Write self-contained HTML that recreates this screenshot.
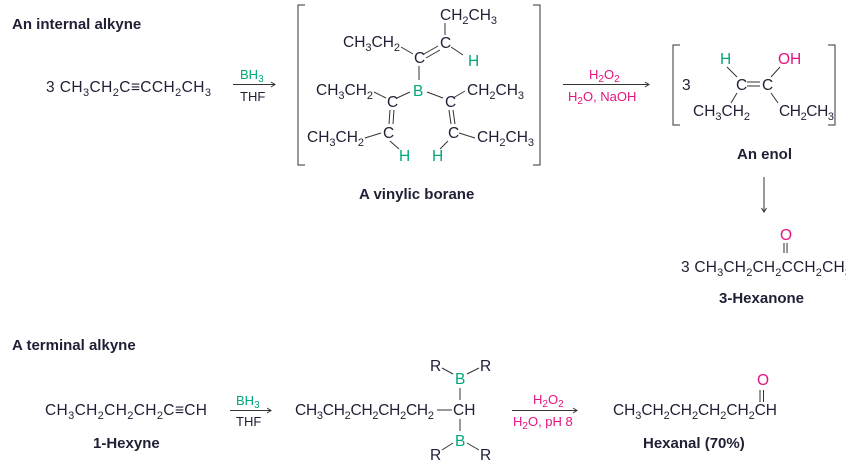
<!DOCTYPE html>
<html><head><meta charset="utf-8"><style>
html,body{margin:0;padding:0;background:#fff;}
svg{display:block;font-family:"Liberation Sans",sans-serif;}
.t{font-size:15.5px;fill:#1f1f35;}
.b{font-size:15px;font-weight:bold;fill:#1f1f35;}
.s{font-size:13px;fill:#1f1f35;}
.g{fill:#00a77a;}
.m{fill:#e5137f;}
line,polyline,path{stroke:#333;stroke-width:1;fill:none;}
</style></head><body>
<svg width="846" height="465" viewBox="0 0 846 465">
<text class="b" x="12" y="29">An internal alkyne</text>
<text class="t" x="46" y="92" textLength="165">3 CH<tspan dy="4" font-size="11">3</tspan><tspan dy="-4">CH</tspan><tspan dy="4" font-size="11">2</tspan><tspan dy="-4">C≡CCH</tspan><tspan dy="4" font-size="11">2</tspan><tspan dy="-4">CH</tspan><tspan dy="4" font-size="11">3</tspan></text>
<text class="s g" x="240" y="79">BH<tspan dy="3" font-size="10">3</tspan></text>
<line x1="233" y1="84.5" x2="275" y2="84.5" stroke="#777"/>
<polyline points="271,82 275,84.5 271,87" stroke="#777"/>
<text class="s" x="240" y="101">THF</text>

<polyline points="305,5 298,5 298,165 305,165"/>
<polyline points="533,5 540,5 540,165 533,165"/>
<text class="t" x="440" y="20">CH<tspan dy="4" font-size="11">2</tspan><tspan dy="-4">CH</tspan><tspan dy="4" font-size="11">3</tspan></text>
<text class="t" x="343" y="47">CH<tspan dy="4" font-size="11">3</tspan><tspan dy="-4">CH</tspan><tspan dy="4" font-size="11">2</tspan></text>
<text class="t" x="414" y="63">C</text>
<text class="t" x="440" y="48">C</text>
<text class="t g" x="468" y="66">H</text>
<line x1="445" y1="23" x2="445" y2="35"/>
<line x1="401" y1="47" x2="413" y2="54"/>
<line x1="424" y1="54" x2="438" y2="46"/>
<line x1="426" y1="58" x2="440" y2="50"/>
<line x1="451" y1="47" x2="463" y2="55"/>
<line x1="419" y1="66" x2="419" y2="80"/>
<text class="t g" x="413" y="96">B</text>
<text class="t" x="316" y="95">CH<tspan dy="4" font-size="11">3</tspan><tspan dy="-4">CH</tspan><tspan dy="4" font-size="11">2</tspan></text>
<text class="t" x="387" y="107">C</text>
<text class="t" x="445" y="107">C</text>
<text class="t" x="467" y="95">CH<tspan dy="4" font-size="11">2</tspan><tspan dy="-4">CH</tspan><tspan dy="4" font-size="11">3</tspan></text>
<line x1="374" y1="92" x2="386" y2="98"/>
<line x1="397" y1="98" x2="410" y2="92"/>
<line x1="427" y1="92" x2="443" y2="98"/>
<line x1="453" y1="98" x2="465" y2="91"/>
<line x1="390" y1="110" x2="389" y2="124"/>
<line x1="394" y1="110" x2="393" y2="124"/>
<line x1="449" y1="110" x2="451" y2="124"/>
<line x1="453" y1="110" x2="455" y2="124"/>
<text class="t" x="383" y="138">C</text>
<text class="t" x="448" y="138">C</text>
<text class="t" x="307" y="142">CH<tspan dy="4" font-size="11">3</tspan><tspan dy="-4">CH</tspan><tspan dy="4" font-size="11">2</tspan></text>
<line x1="365" y1="138" x2="381" y2="133"/>
<line x1="459" y1="133" x2="475" y2="138"/>
<text class="t" x="477" y="142">CH<tspan dy="4" font-size="11">2</tspan><tspan dy="-4">CH</tspan><tspan dy="4" font-size="11">3</tspan></text>
<line x1="390" y1="141" x2="399" y2="149"/>
<line x1="448" y1="141" x2="440" y2="149"/>
<text class="t g" x="399" y="161">H</text>
<text class="t g" x="432" y="161">H</text>
<text class="b" x="359" y="199">A vinylic borane</text>

<text class="s m" x="589" y="79">H<tspan dy="3" font-size="10">2</tspan><tspan dy="-3">O</tspan><tspan dy="3" font-size="10">2</tspan></text>
<line x1="563" y1="84.5" x2="649" y2="84.5" stroke="#777"/>
<polyline points="645,82 649,84.5 645,87" stroke="#777"/>
<text class="s m" x="568" y="101">H<tspan dy="3" font-size="10">2</tspan><tspan dy="-3">O, NaOH</tspan></text>

<polyline points="680,45 673,45 673,125 680,125"/>
<polyline points="828,45 835,45 835,125 828,125"/>
<text class="t" x="682" y="90">3</text>
<text class="t g" x="720" y="64">H</text>
<text class="t m" x="778" y="64">OH</text>
<text class="t" x="736" y="90">C</text>
<text class="t" x="762" y="90">C</text>
<line x1="747" y1="82" x2="760" y2="82"/>
<line x1="747" y1="86" x2="760" y2="86"/>
<line x1="727" y1="67" x2="737" y2="77"/>
<line x1="780" y1="67" x2="771" y2="77"/>
<line x1="737" y1="93" x2="731" y2="103"/>
<line x1="771" y1="93" x2="778" y2="103"/>
<text class="t" x="693" y="116">CH<tspan dy="4" font-size="11">3</tspan><tspan dy="-4">CH</tspan><tspan dy="4" font-size="11">2</tspan></text>
<text class="t" x="779" y="116" textLength="55">CH<tspan dy="4" font-size="11">2</tspan><tspan dy="-4">CH</tspan><tspan dy="4" font-size="11">3</tspan></text>
<text class="b" x="737" y="159">An enol</text>
<line x1="764" y1="177" x2="764" y2="212"/>
<polyline points="761.5,208 764,212 766.5,208"/>
<text class="t m" x="780" y="240">O</text>
<line x1="784" y1="243" x2="784" y2="253"/>
<line x1="787" y1="243" x2="787" y2="253"/>
<text class="t" x="681" y="272" textLength="170">3 CH<tspan dy="4" font-size="11">3</tspan><tspan dy="-4">CH</tspan><tspan dy="4" font-size="11">2</tspan><tspan dy="-4">CH</tspan><tspan dy="4" font-size="11">2</tspan><tspan dy="-4">CCH</tspan><tspan dy="4" font-size="11">2</tspan><tspan dy="-4">CH</tspan><tspan dy="4" font-size="11">3</tspan></text>
<text class="b" x="719" y="303">3-Hexanone</text>

<text class="b" x="12" y="350">A terminal alkyne</text>
<text class="t" x="45" y="415" textLength="162">CH<tspan dy="4" font-size="11">3</tspan><tspan dy="-4">CH</tspan><tspan dy="4" font-size="11">2</tspan><tspan dy="-4">CH</tspan><tspan dy="4" font-size="11">2</tspan><tspan dy="-4">CH</tspan><tspan dy="4" font-size="11">2</tspan><tspan dy="-4">C≡CH</tspan></text>
<text class="b" x="93" y="448">1-Hexyne</text>
<text class="s g" x="236" y="405">BH<tspan dy="3" font-size="10">3</tspan></text>
<line x1="230" y1="410.5" x2="271" y2="410.5" stroke="#777"/>
<polyline points="267,408 271,410.5 267,413" stroke="#777"/>
<text class="s" x="236" y="426">THF</text>

<text class="t" x="295" y="415" textLength="139">CH<tspan dy="4" font-size="11">3</tspan><tspan dy="-4">CH</tspan><tspan dy="4" font-size="11">2</tspan><tspan dy="-4">CH</tspan><tspan dy="4" font-size="11">2</tspan><tspan dy="-4">CH</tspan><tspan dy="4" font-size="11">2</tspan><tspan dy="-4">CH</tspan><tspan dy="4" font-size="11">2</tspan></text>
<line x1="437" y1="410" x2="452" y2="410"/>
<text class="t" x="453" y="415">CH</text>
<text class="t" x="430" y="371">R</text>
<text class="t g" x="455" y="384">B</text>
<text class="t" x="480" y="371">R</text>
<line x1="442" y1="368" x2="453" y2="374"/>
<line x1="467" y1="374" x2="479" y2="368"/>
<line x1="460" y1="388" x2="460" y2="400"/>
<line x1="460" y1="419" x2="460" y2="431"/>
<text class="t g" x="455" y="446">B</text>
<text class="t" x="430" y="460">R</text>
<text class="t" x="480" y="460">R</text>
<line x1="442" y1="450" x2="453" y2="443"/>
<line x1="467" y1="443" x2="479" y2="450"/>

<text class="s m" x="533" y="404">H<tspan dy="3" font-size="10">2</tspan><tspan dy="-3">O</tspan><tspan dy="3" font-size="10">2</tspan></text>
<line x1="512" y1="410.5" x2="577" y2="410.5" stroke="#777"/>
<polyline points="573,408 577,410.5 573,413" stroke="#777"/>
<text class="s m" x="513" y="426">H<tspan dy="3" font-size="10">2</tspan><tspan dy="-3">O, pH 8</tspan></text>

<text class="t m" x="757" y="385">O</text>
<line x1="760" y1="390" x2="760" y2="402"/>
<line x1="763.5" y1="390" x2="763.5" y2="402"/>
<text class="t" x="613" y="415" textLength="164">CH<tspan dy="4" font-size="11">3</tspan><tspan dy="-4">CH</tspan><tspan dy="4" font-size="11">2</tspan><tspan dy="-4">CH</tspan><tspan dy="4" font-size="11">2</tspan><tspan dy="-4">CH</tspan><tspan dy="4" font-size="11">2</tspan><tspan dy="-4">CH</tspan><tspan dy="4" font-size="11">2</tspan><tspan dy="-4">CH</tspan></text>
<text class="b" x="643" y="448">Hexanal (70%)</text>
</svg>
</body></html>
